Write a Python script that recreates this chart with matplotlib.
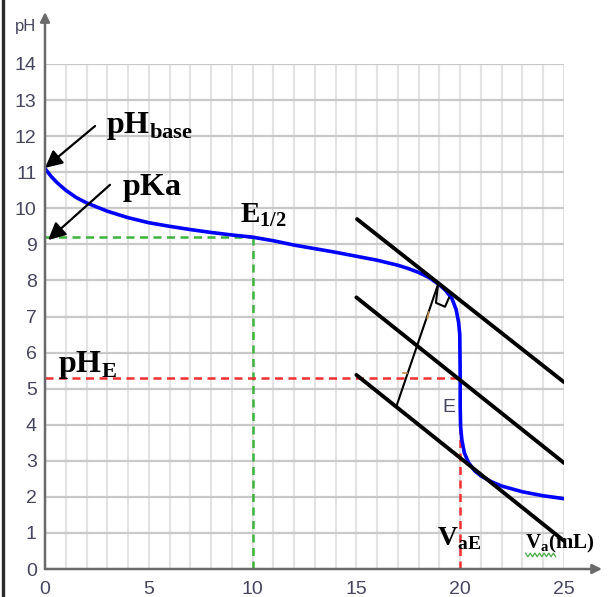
import numpy as np
import matplotlib
matplotlib.use("Agg")
import matplotlib.pyplot as plt
from matplotlib.lines import Line2D
from matplotlib import font_manager

# Titration of a weak base by a strong acid: volume of acid added (mL) vs pH
volume_ml = [0, 0.3, 0.6, 1, 1.5, 2, 3, 4, 5, 6, 7, 8, 9, 10, 11, 12, 13, 14,
             15, 16, 17, 17.5, 18, 18.5, 19, 19.3, 19.6, 19.8, 19.92, 19.98,
             20.0, 20.0, 20.02, 20.08, 20.2, 20.4, 20.7, 21, 21.5, 22, 23, 24, 25]
ph_values = [11.1, 10.88, 10.7, 10.5, 10.3, 10.15, 9.92, 9.74, 9.6, 9.5, 9.41,
             9.33, 9.26, 9.2, 9.1, 8.98, 8.88, 8.78, 8.67, 8.56, 8.42, 8.33,
             8.22, 8.08, 7.88, 7.72, 7.5, 7.2, 6.85, 6.5, 5.3, 4.5, 3.95, 3.58,
             3.22, 2.95, 2.72, 2.58, 2.42, 2.3, 2.14, 2.03, 1.95]

ph_start = 11.1
pka = 9.2
v_half = 10
ph_equiv = 5.3
v_equiv = 20

# Parallel tangents method: start/end points of the three parallel lines
tangent_top = [(15.03, 9.70), (25.0, 5.18)]
tangent_mid = [(15.0, 7.53), (25.0, 2.94)]
tangent_low = [(15.0, 5.38), (25.0, 0.78)]
perp_segment = [(18.92, 7.87), (16.95, 4.55)]

x_ticks = [0, 5, 10, 15, 20, 25]
y_ticks = list(range(0, 15))

available = {f.name for f in font_manager.fontManager.ttflist}
tick_family = ["Liberation Sans Narrow", "Liberation Sans"] if "Liberation Sans Narrow" in available else ["Liberation Sans"]

plt.rcParams["mathtext.fontset"] = "custom"
plt.rcParams["mathtext.rm"] = "Liberation Serif"
plt.rcParams["mathtext.bf"] = "Liberation Serif:bold"

W, H = 611, 597
fig = plt.figure(figsize=(W / 100, H / 100), dpi=100)
fig.patch.set_facecolor("white")

# axes box: x 0..25 -> px 45..564, y 0..14 -> px 569..64
ax = fig.add_axes([45 / W, (H - 569) / H, 519 / W, 505 / H])
ax.set_xlim(0, 25)
ax.set_ylim(0, 14)
for s in ax.spines.values():
    s.set_visible(False)

# grid
for v in range(1, 26):
    ax.plot([v, v], [0, 14], color="#e3e3e3", lw=1.5, zorder=1)
for p in range(1, 15):
    ax.plot([0, 25], [p, p], color="#c9c9c9", lw=1.6, zorder=1)

# axes with arrows
axis_col = "#6a6a6a"
ax.annotate("", xy=(26.83, 0), xytext=(0, 0), annotation_clip=False,
            arrowprops=dict(arrowstyle="-|>", color=axis_col, lw=1.8,
                            mutation_scale=14, shrinkA=0, shrinkB=0), zorder=6)
ax.annotate("", xy=(0, 15.44), xytext=(0, 0), annotation_clip=False,
            arrowprops=dict(arrowstyle="-|>", color=axis_col, lw=1.8,
                            mutation_scale=14, shrinkA=0, shrinkB=0), zorder=6)

tick_col = "#464660"
ax.set_xticks(x_ticks)
ax.set_xticklabels([str(t) for t in x_ticks])
ax.set_yticks(y_ticks)
ax.set_yticklabels([str(t) for t in y_ticks])
ax.tick_params(axis="both", length=0, labelcolor=tick_col, labelsize=14)
ax.tick_params(axis="x", pad=9)
ax.tick_params(axis="y", pad=6)
for lab in ax.get_xticklabels() + ax.get_yticklabels():
    lab.set_family(tick_family)

ax.text(-0.95, 15.05, "pH", fontsize=12, color=tick_col, family=tick_family,
        ha="center", va="center")

# dashed guide lines
green = "#3cb43c"
red = "#f03030"
dash = (0, (3.2, 2.2))
ax.plot([0, v_half], [pka, pka], color=green, lw=1.8, ls=dash, zorder=2)
ax.plot([v_half, v_half], [0, pka], color=green, lw=1.8, ls=dash, zorder=2)
ax.plot([0, v_equiv], [ph_equiv, ph_equiv], color=red, lw=1.8, ls=dash, zorder=2)
ax.plot([v_equiv, v_equiv], [0, ph_equiv], color=red, lw=1.8, ls=dash, zorder=2)

# titration curve
ax.plot(volume_ml, ph_values, color="#0000ff", lw=2.6, zorder=3,
        solid_joinstyle="round", solid_capstyle="round")

# parallel tangents
for (a, b) in (tangent_top, tangent_mid, tangent_low):
    ax.plot([a[0], b[0]], [a[1], b[1]], color="black", lw=2.8, zorder=4,
            solid_capstyle="round")
ax.plot([perp_segment[0][0], perp_segment[1][0]],
        [perp_segment[0][1], perp_segment[1][1]], color="black", lw=1.5, zorder=4)
# right-angle mark
ax.plot([18.92, 18.83, 19.27, 19.46], [7.82, 7.38, 7.27, 7.52],
        color="black", lw=1.5, zorder=4)
# equal-length marks on the perpendicular
ax.plot([18.42, 18.48], [6.95, 7.12], color="#c8884a", lw=1.2, zorder=4)
ax.plot([17.25, 17.45], [5.43, 5.43], color="#c8884a", lw=1.2, zorder=4)

# arrows to pH_base and pKa
arrow_kw = dict(arrowstyle="-|>", color="black", lw=1.6, mutation_scale=26,
                shrinkA=0, shrinkB=0)
ax.annotate("", xy=(0.0, 11.12), xytext=(2.41, 12.28), arrowprops=arrow_kw,
            annotation_clip=False, zorder=5)
ax.annotate("", xy=(0.15, 9.12), xytext=(3.13, 10.65), arrowprops=arrow_kw,
            annotation_clip=False, zorder=5)

# labels
ax.text(2.94, 12.09, r"$\mathbf{pH}_{\mathbf{base}}$", fontsize=23,
        ha="left", va="baseline", zorder=7)
ax.text(3.71, 10.37, r"$\mathbf{pKa}$", fontsize=23,
        ha="left", va="baseline", zorder=7)
ax.text(9.39, 9.62, r"$\mathbf{E}_{\mathbf{1/2}}$", fontsize=21,
        ha="left", va="baseline", zorder=7)
ax.text(0.63, 5.46, r"$\mathbf{pH}_{\mathbf{E}}$", fontsize=23,
        ha="left", va="baseline", zorder=7)
ax.text(18.88, 0.67, r"$\mathbf{V}_{\mathbf{aE}}$", fontsize=20,
        ha="left", va="baseline", zorder=7)
ax.text(23.12, 0.58, r"$\mathbf{V}_{\mathbf{a}}\mathbf{(mL)}$", fontsize=15,
        ha="left", va="baseline", zorder=7)
ax.text(19.44, 4.49, "E", fontsize=14, color=tick_col, family=tick_family,
        ha="center", va="center", zorder=7)

# green wavy underline under "Va"
wx = np.linspace(23.15, 24.6, 14)
wy = 0.39 + 0.05 * np.array([(-1) ** i for i in range(len(wx))])
ax.plot(wx, wy, color="#44aa44", lw=0.9, zorder=7, clip_on=False)

# dark left edge of the frame
fig.add_artist(Line2D([3 / W, 3 / W], [0, 1], transform=fig.transFigure,
                      color="#2a2a2a", lw=2.4))

fig.savefig("out.png", dpi=100, facecolor="white")
